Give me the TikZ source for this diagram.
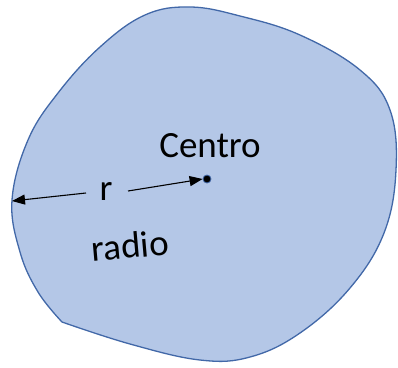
\documentclass[tikz,border=0pt]{standalone}
\usepackage{fontspec}
\setmainfont{Carlito}
\usetikzlibrary{arrows.meta}
\definecolor{shapefill}{HTML}{B4C7E7}
\definecolor{shapeline}{RGB}{66,104,168}
\tikzset{
  blob/.style={fill=shapefill,draw=shapeline,line width=1.3pt,line join=round},
  lbl/.style={font=\fontsize{37}{40}\selectfont,inner sep=0pt,anchor=base,text=black},
  rarrow/.style={-{Triangle[length=13pt,width=10pt]},line width=1.1pt,black}
}
\begin{document}
\begin{tikzpicture}[x=1pt,y=-1pt]
\useasboundingbox (0,0) rectangle (398,367);
\draw[blob] plot[smooth,tension=0.65] coordinates {
(62,322) (130,344) (200,360) (250,357) (300,333) (350,288) (384,233)
(396,170) (390,110) (360,70) (300,35) (240,16) (190,7) (145,15) (100,47)
(58,93) (28,140) (12,200) (20,252) (38,292) (62,322)} -- cycle;
\node[circle,fill=black,draw=shapeline,line width=0.8pt,inner sep=0pt,minimum size=8pt] (c) at (207,179) {};
\node[lbl] (centro) at (210,157) {Centro};
\node[lbl] (r) at (106,200) {r};
\node[lbl,rotate=5] (radio) at (131,258) {radio};
\coordinate (edge) at (12,201);
\coordinate (ls) at (86,193);
\coordinate (rs) at (128,191);
\draw[rarrow] (ls) -- (edge);
\draw[rarrow] (rs) -- (c.west);
\end{tikzpicture}
\end{document}
